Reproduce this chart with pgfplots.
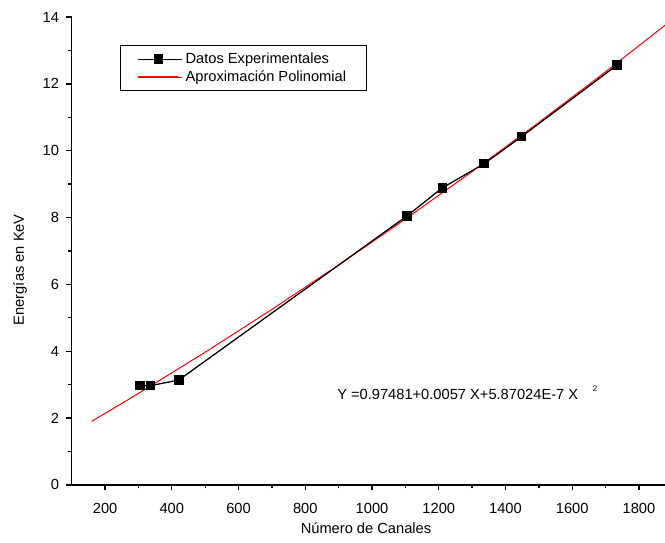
\documentclass[border=0pt]{standalone}
\usepackage{fontspec}
\setmainfont{Liberation Sans}
\usepackage{pgfplots}
\usepackage{pgfplotstable}
\pgfplotsset{compat=1.18}
\pgfplotstableread{
x y
304 2.97
336 2.97
421 3.14
1105 8.05
1211 8.89
1336 9.61
1448 10.42
1734 12.56
}\datos
\pgfplotstableread{
x y
160 1.9018
300 2.7376
500 3.9716
700 5.2525
900 6.5803
1100 7.9551
1300 9.3769
1500 10.8456
1700 12.3613
1900 13.9240
}\ajuste
\definecolor{fitred}{RGB}{255,0,0}
\begin{document}
\begin{tikzpicture}
\begin{axis}[
  scale only axis, width=445pt, height=351pt,
  xmin=100, xmax=1878, ymin=0, ymax=14,
  axis x line=bottom, axis y line=left,
  axis line style={-, line width=1.1pt},
  xtick={200,400,...,1800}, ytick={0,2,...,14},
  minor x tick num=1, minor y tick num=1,
  tick align=outside, major tick length=4pt, minor tick length=2.5pt,
  every tick/.style={black, line width=1pt},
  tick label style={font=\fontsize{11}{13}\selectfont},
  xticklabel style={yshift=-6.5pt},
  yticklabel style={xshift=-2pt},
  /pgf/number format/assume math mode=true,
  /pgf/number format/1000 sep={},
  xlabel={Número de Canales}, ylabel={Energías en KeV},
  label style={font=\fontsize{11}{13}\selectfont},
  xlabel style={at={(rel axis cs:0.496,-0.0919)}, anchor=center},
  ylabel style={at={(rel axis cs:-0.0872,0.46)}, anchor=center},
  legend style={at={(rel axis cs:0.0814,0.940)}, anchor=north west, draw, line width=0.6pt,
    font=\fontsize{11}{13.5}\selectfont, cells={anchor=west}, row sep=0pt, inner xsep=13pt, inner ysep=3.5pt},
]
\addplot[black, line width=0.75pt, mark=square*, mark size=3.2pt, mark options={solid},
  legend image code/.code={\draw[black, line width=0.75pt] (0pt,0pt) -- (30pt,0pt); \fill[black] (11.8pt,-3.2pt) rectangle (18.2pt,3.2pt); \path (0pt,0pt) -- (33pt,0pt);}] table {\datos};
\addlegendentry{Datos Experimentales}
\addplot[fitred, line width=0.75pt, no marks,
  legend image code/.code={\draw[draw=fitred, color=fitred, line width=1pt] (0pt,0pt) -- (30pt,0pt); \path (0pt,0pt) -- (33pt,0pt);}] table {\ajuste};
\addlegendentry{Aproximación Polinomial\hspace{9pt}}
\addplot[black, line width=0.75pt, mark=square*, mark size=3.2pt, mark options={solid}, forget plot] table {\datos};
\node[anchor=base west, inner sep=0pt, font=\fontsize{11}{13}\selectfont] at (axis cs:895,2.57) {Y =0.97481+0.0057 X+5.87024E-7 X\hspace{11pt}\raisebox{6pt}{\fontsize{6}{7}\selectfont 2}};
\end{axis}
\pgfresetboundingbox
\path ([shift={(-53.8pt,-43.5pt)}]current axis.south west) rectangle ([shift={(0pt,12.75pt)}]current axis.north east);
\end{tikzpicture}
\end{document}
